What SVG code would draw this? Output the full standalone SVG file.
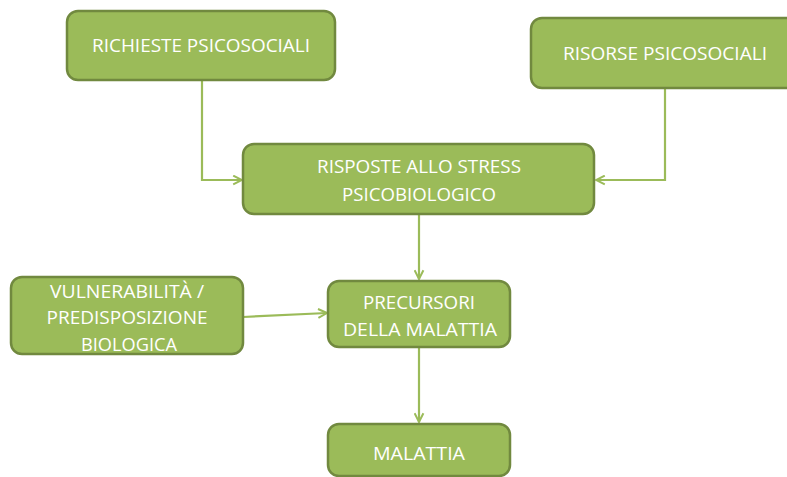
<svg xmlns="http://www.w3.org/2000/svg" width="787" height="477" viewBox="0 0 787 477">
<style>
.box{fill:#9BBB59;stroke:#71893F;stroke-width:2.5}
.t{font-family:"Open Sans","Liberation Sans",sans-serif;font-size:18px;fill:#FFFFFF;text-anchor:middle}
.c{fill:none;stroke:#9BBB59;stroke-width:2.2;marker-end:url(#arr)}
</style>
<defs>
<marker id="arr" viewBox="0 0 10 10" refX="9" refY="5" markerWidth="5" markerHeight="5" orient="auto" markerUnits="strokeWidth">
<path d="M1,1 L9,5 L1,9" fill="none" stroke="#9BBB59" stroke-width="1.8"/>
</marker>
</defs>
<rect width="787" height="477" fill="#FFFFFF"/>
<g id="connectors">
<path class="c" d="M202,80 V180 H242"/>
<path class="c" d="M665,88 V180 H596"/>
<path class="c" d="M419,214 V279"/>
<path class="c" d="M243,317 L327,313"/>
<path class="c" d="M419,347 V422"/>
</g>
<g id="richieste">
<rect class="box" x="67" y="11" width="268" height="69" rx="11"/>
<text class="t" x="201" y="52" textLength="218" lengthAdjust="spacingAndGlyphs">RICHIESTE PSICOSOCIALI</text>
</g>
<g id="risorse">
<rect class="box" x="531" y="18" width="280" height="70" rx="11"/>
<text class="t" x="665" y="60" textLength="204" lengthAdjust="spacingAndGlyphs">RISORSE PSICOSOCIALI</text>
</g>
<g id="risposte">
<rect class="box" x="243" y="144" width="351" height="70" rx="11"/>
<text class="t" x="419" y="173" textLength="204" lengthAdjust="spacingAndGlyphs">RISPOSTE ALLO STRESS</text>
<text class="t" x="419" y="201" textLength="154" lengthAdjust="spacingAndGlyphs">PSICOBIOLOGICO</text>
</g>
<g id="vulnerabilita">
<rect class="box" x="11" y="277" width="232" height="77" rx="11"/>
<text class="t" x="127" y="298" textLength="154" lengthAdjust="spacingAndGlyphs">VULNERABILITÀ /</text>
<text class="t" x="127" y="324" textLength="161" lengthAdjust="spacingAndGlyphs">PREDISPOSIZIONE</text>
<text class="t" x="129" y="351" textLength="96" lengthAdjust="spacingAndGlyphs">BIOLOGICA</text>
</g>
<g id="precursori">
<rect class="box" x="328" y="281" width="182" height="66" rx="11"/>
<text class="t" x="419" y="309" textLength="112" lengthAdjust="spacingAndGlyphs">PRECURSORI</text>
<text class="t" x="420" y="336" textLength="154" lengthAdjust="spacingAndGlyphs">DELLA MALATTIA</text>
</g>
<g id="malattia">
<rect class="box" x="328" y="424" width="182" height="52" rx="11"/>
<text class="t" x="419" y="460" textLength="92" lengthAdjust="spacingAndGlyphs">MALATTIA</text>
</g>
</svg>
